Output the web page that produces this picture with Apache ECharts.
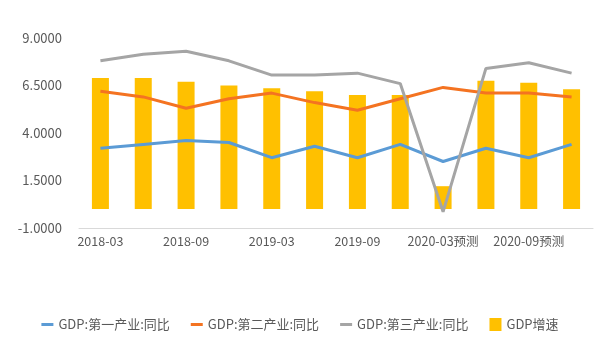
<!DOCTYPE html>
<html>
<head>
<meta charset="utf-8">
<script src="https://cdn.jsdelivr.net/npm/echarts@6/dist/echarts.min.js"></script>
<style>
html,body{margin:0;padding:0;background:#fff;}
#gdpChart{width:600px;height:354px;}
</style>
</head>
<body>
<div id="gdpChart"></div>
<script>
// 季度
var quarters = ['2018-03', '2018-06', '2018-09', '2018-12', '2019-03', '2019-06', '2019-09', '2019-12',
    '2020-03预测', '2020-06预测', '2020-09预测', '2020-12预测'];
// 第一产业 同比
var primaryYoy = [3.2, 3.4, 3.6, 3.5, 2.7, 3.3, 2.7, 3.4, 2.5, 3.2, 2.7, 3.4];
// 第二产业 同比
var secondaryYoy = [6.2, 5.9, 5.3, 5.8, 6.1, 5.6, 5.2, 5.8, 6.4, 6.1, 6.1, 5.9];
// 第三产业 同比
var tertiaryYoy = [7.8, 8.15, 8.3, 7.8, 7.05, 7.05, 7.15, 6.6, -0.15, 7.4, 7.7, 7.15];
// GDP增速
var gdpGrowth = [6.9, 6.9, 6.7, 6.5, 6.35, 6.2, 6.0, 6.0, 1.2, 6.75, 6.65, 6.3];
var yTicks = {min: -1, max: 9, step: 2.5};

(function(){
    var dom = document.getElementById('gdpChart');
    var chart = echarts.init(dom);
    var font = 'Noto Sans CJK SC';
    var lineIcon = 'path://M0,0 L12,0 L12,3 L0,3 Z';

    function lineSeries(name, data, color) {
        return {
            name: name,
            type: 'line',
            data: data,
            symbol: 'none',
            z: 3,
            lineStyle: {width: 3, color: color},
            itemStyle: {color: color}
        };
    }

    var option = {
        animation: false,
        textStyle: {fontFamily: font},
        grid: {left: 79, right: 7, top: 38, bottom: 126, outerBoundsMode: 'none'},
        legend: {
            bottom: 18,
            itemWidth: 12,
            itemHeight: 13,
            itemGap: 21,
            textStyle: {fontSize: 13, color: '#595959', fontFamily: font},
            data: [
                {name: 'GDP:第一产业:同比', icon: lineIcon},
                {name: 'GDP:第二产业:同比', icon: lineIcon},
                {name: 'GDP:第三产业:同比', icon: lineIcon},
                {name: 'GDP增速', icon: 'rect'}
            ]
        },
        xAxis: {
            type: 'category',
            data: quarters,
            axisLine: {onZero: false, lineStyle: {color: '#d9d9d9', width: 1}},
            axisTick: {show: false},
            axisLabel: {interval: 1, color: '#595959', fontSize: 12.5, margin: 7, fontFamily: font}
        },
        yAxis: {
            type: 'value',
            min: yTicks.min,
            max: yTicks.max,
            interval: yTicks.step,
            splitLine: {show: false},
            axisLine: {show: false},
            axisTick: {show: false},
            axisLabel: {
                color: '#595959', fontSize: 13, margin: 17, fontFamily: font,
                formatter: function (v) { return v.toFixed(4); }
            }
        },
        series: [
            {
                name: 'GDP增速',
                type: 'bar',
                data: gdpGrowth,
                barWidth: 17,
                z: 1,
                itemStyle: {color: '#FFC000'}
            },
            lineSeries('GDP:第一产业:同比', primaryYoy, '#5B9BD5'),
            lineSeries('GDP:第二产业:同比', secondaryYoy, '#F47321'),
            lineSeries('GDP:第三产业:同比', tertiaryYoy, '#A5A5A5')
        ]
    };
    chart.setOption(option, true);
})();
</script>
</body>
</html>
